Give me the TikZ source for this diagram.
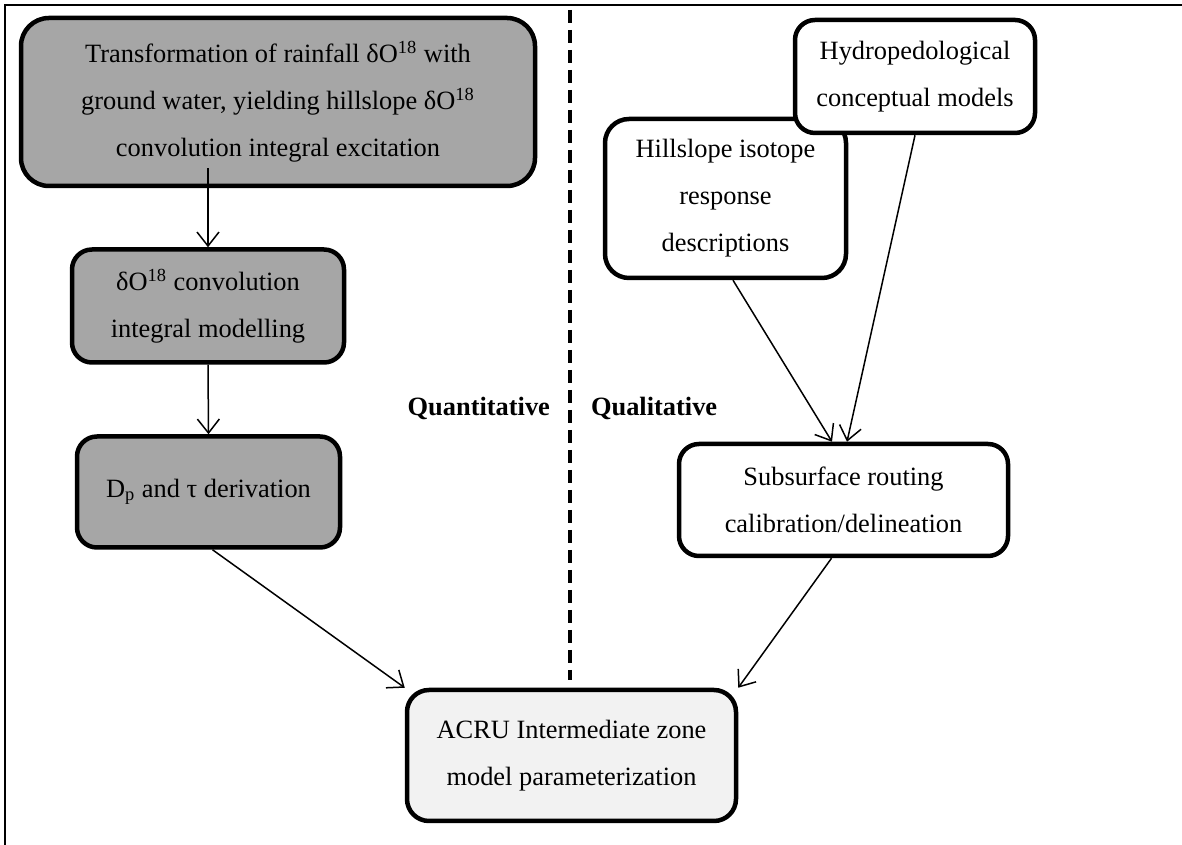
\documentclass[tikz,border=0pt]{standalone}
\usepackage{fontspec}
\setmainfont{Liberation Serif}
\usetikzlibrary{arrows.meta}
\definecolor{boxgrey}{HTML}{A6A6A6}
\definecolor{boxlight}{HTML}{F2F2F2}

\begin{document}
\begin{tikzpicture}[x=0.5pt,y=0.5pt]
    \useasboundingbox (0,0) rectangle (1182,845);
    \draw[line width=1pt] (5,0) -- (5,840) -- (1182,840);

    \begin{scope}[every node/.style={draw,line width=2.25pt,rounded corners=10pt,
        align=center,inner sep=0pt,font=\fontsize{13.2pt}{23.5pt}\selectfont}]
      \node[fill=boxgrey,minimum width=257pt,minimum height=84pt,rounded corners=14pt] (trans) at (278,743)
        {Transformation of rainfall δO\textsuperscript{18} with\\ground water, yielding hillslope δO\textsuperscript{18}\\convolution integral excitation};
      \node[fill=boxgrey,minimum width=136pt,minimum height=56.5pt] (conv) at (208,539)
        {δO\textsuperscript{18} convolution\\integral modelling};
      \node[fill=boxgrey,minimum width=131.5pt,minimum height=55.5pt] (deriv) at (208.5,353)
        {D\textsubscript{p} and τ derivation};
      \node[fill=boxlight,minimum width=164.5pt,minimum height=65.5pt,rounded corners=11pt] (acru) at (571.5,89.5)
        {ACRU Intermediate zone\\model parameterization};
      \node[fill=white,minimum width=164.5pt,minimum height=56pt] (sub) at (843.5,345)
        {Subsurface routing\\calibration/delineation};
      \node[fill=white,minimum width=120.5pt,minimum height=79.5pt,rounded corners=12pt] (hill) at (725.5,646.5)
        {Hillslope isotope\\response\\descriptions};
      \node[fill=white,minimum width=120pt,minimum height=56.5pt] (hydro) at (915,768.5)
        {Hydropedological\\conceptual models};
    \end{scope}

    \begin{scope}[font=\fontsize{13.2pt}{15pt}\selectfont\bfseries]
      \node[anchor=east] (quant) at (557,437) {Quantitative};
      \node[anchor=west] (qual) at (584,437) {Qualitative};
    \end{scope}

    \coordinate (divtop) at (570,835);
    \coordinate (divbot) at (570,165);
    \draw[line width=2pt,dash pattern=on 6.5pt off 3.5pt] (divtop) -- (divbot);

    \begin{scope}[>={Straight Barb[length=7pt,width=11pt]},line width=0.75pt]
      \draw[->] ([yshift=10pt]conv.north |- trans.south) -- (conv.north);
      \draw[->] (conv.south) -- (deriv.north);
      \draw[->] ([xshift=2pt]deriv.south) -- (acru.north west);
      \draw[->] ([xshift=-6pt]sub.south) -- (acru.north east);
      \draw[->] ([xshift=3.75pt]hill.south) -- ([xshift=-5.75pt]sub.north);
      \draw[->] (hydro.south) -- ([xshift=1.75pt]sub.north);
    \end{scope}
\end{tikzpicture}
\end{document}
